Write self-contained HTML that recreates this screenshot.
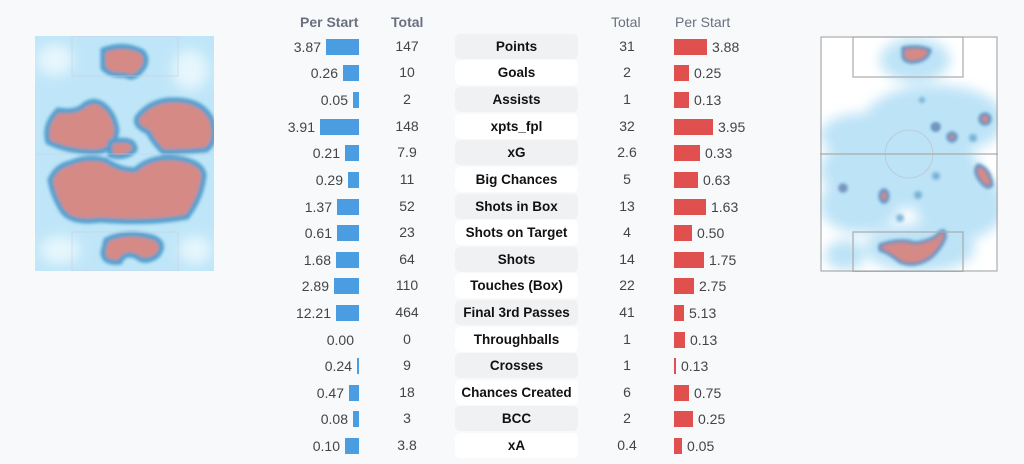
<!DOCTYPE html>
<html><head><meta charset="utf-8"><style>
body{margin:0;width:1024px;height:464px;background:#f8f9fb;font-family:"Liberation Sans",sans-serif;position:relative;overflow:hidden;color:#444}
.h{position:absolute;top:14px;font-size:14px;color:#6a7080}
.row{position:absolute;left:0;width:1024px;height:25px}
.l{position:absolute;right:665px;top:0;height:25px;display:flex;align-items:center;gap:5px;font-size:14px;color:#444}
.l i{display:block;height:16px;background:#4a9de0}
.r{position:absolute;left:674px;top:0;height:25px;display:flex;align-items:center;gap:5px;font-size:14px;color:#444}
.r i{display:block;height:16px;background:#e0504e}
.t1,.t2{position:absolute;top:0;height:25px;line-height:25px;width:60px;text-align:center;font-size:14px;color:#444}
.t1{left:377px}.t2{left:597px}
.p{position:absolute;left:455px;width:123px;top:0;height:25px;line-height:25px;text-align:center;font-weight:bold;font-size:13.5px;color:#111;border-radius:5px;background:#fff}
.g .p{background:#f0f1f3}
</style></head><body>
<div class="h" style="left:300px;font-weight:bold">Per Start</div>
<div class="h" style="left:391px;font-weight:bold">Total</div>
<div class="h" style="left:611px">Total</div>
<div class="h" style="left:675px">Per Start</div>

<div class="row g" style="top:34px"><div class="l">3.87<i style="width:33px"></i></div><div class="t1">147</div><div class="p">Points</div><div class="t2">31</div><div class="r"><i style="width:33px"></i>3.88</div></div>
<div class="row" style="top:60px"><div class="l">0.26<i style="width:16px"></i></div><div class="t1">10</div><div class="p">Goals</div><div class="t2">2</div><div class="r"><i style="width:15px"></i>0.25</div></div>
<div class="row g" style="top:87px"><div class="l">0.05<i style="width:6px"></i></div><div class="t1">2</div><div class="p">Assists</div><div class="t2">1</div><div class="r"><i style="width:15px"></i>0.13</div></div>
<div class="row" style="top:114px"><div class="l">3.91<i style="width:39px"></i></div><div class="t1">148</div><div class="p">xpts_fpl</div><div class="t2">32</div><div class="r"><i style="width:39px"></i>3.95</div></div>
<div class="row g" style="top:140px"><div class="l">0.21<i style="width:14px"></i></div><div class="t1">7.9</div><div class="p">xG</div><div class="t2">2.6</div><div class="r"><i style="width:26px"></i>0.33</div></div>
<div class="row" style="top:167px"><div class="l">0.29<i style="width:11px"></i></div><div class="t1">11</div><div class="p">Big Chances</div><div class="t2">5</div><div class="r"><i style="width:24px"></i>0.63</div></div>
<div class="row g" style="top:194px"><div class="l">1.37<i style="width:22px"></i></div><div class="t1">52</div><div class="p">Shots in Box</div><div class="t2">13</div><div class="r"><i style="width:32px"></i>1.63</div></div>
<div class="row" style="top:220px"><div class="l">0.61<i style="width:22px"></i></div><div class="t1">23</div><div class="p">Shots on Target</div><div class="t2">4</div><div class="r"><i style="width:18px"></i>0.50</div></div>
<div class="row g" style="top:247px"><div class="l">1.68<i style="width:23px"></i></div><div class="t1">64</div><div class="p">Shots</div><div class="t2">14</div><div class="r"><i style="width:30px"></i>1.75</div></div>
<div class="row" style="top:273px"><div class="l">2.89<i style="width:25px"></i></div><div class="t1">110</div><div class="p">Touches (Box)</div><div class="t2">22</div><div class="r"><i style="width:20px"></i>2.75</div></div>
<div class="row g" style="top:300px"><div class="l">12.21<i style="width:23px"></i></div><div class="t1">464</div><div class="p">Final 3rd Passes</div><div class="t2">41</div><div class="r"><i style="width:10px"></i>5.13</div></div>
<div class="row" style="top:327px"><div class="l">0.00<i style="width:0px"></i></div><div class="t1">0</div><div class="p">Throughballs</div><div class="t2">1</div><div class="r"><i style="width:11px"></i>0.13</div></div>
<div class="row g" style="top:353px"><div class="l">0.24<i style="width:2px"></i></div><div class="t1">9</div><div class="p">Crosses</div><div class="t2">1</div><div class="r"><i style="width:2px"></i>0.13</div></div>
<div class="row" style="top:380px"><div class="l">0.47<i style="width:10px"></i></div><div class="t1">18</div><div class="p">Chances Created</div><div class="t2">6</div><div class="r"><i style="width:15px"></i>0.75</div></div>
<div class="row g" style="top:406px"><div class="l">0.08<i style="width:6px"></i></div><div class="t1">3</div><div class="p">BCC</div><div class="t2">2</div><div class="r"><i style="width:19px"></i>0.25</div></div>
<div class="row" style="top:433px"><div class="l">0.10<i style="width:14px"></i></div><div class="t1">3.8</div><div class="p">xA</div><div class="t2">0.4</div><div class="r"><i style="width:8px"></i>0.05</div></div>

<svg style="position:absolute;left:0;top:0" width="1024" height="464">
<defs>
<filter id="b" x="-20%" y="-20%" width="140%" height="140%"><feGaussianBlur stdDeviation="6"/></filter>
<filter id="s" x="-20%" y="-20%" width="140%" height="140%"><feGaussianBlur stdDeviation="1.5"/></filter>
<clipPath id="c1"><rect x="35" y="36" width="179" height="235"/></clipPath>
<clipPath id="c2"><rect x="820" y="36" width="178" height="236"/></clipPath>
</defs>
<g clip-path="url(#c1)">
<rect x="35" y="36" width="179" height="235" fill="#bfe6f8"/>
<g filter="url(#b)" fill="#e6f6fd"><ellipse cx="55" cy="60" rx="18" ry="16"/><ellipse cx="190" cy="70" rx="18" ry="20"/><ellipse cx="60" cy="250" rx="20" ry="14"/><ellipse cx="195" cy="250" rx="16" ry="14"/></g>
<g filter="url(#s)" fill="#d58a86" stroke="#4f9fce" stroke-width="5">
<path d="M103 50 Q125 42 143 52 Q150 62 140 72 Q133 80 125 75 Q110 76 103 68 Z"/>
<path d="M83 106 Q92 98 102 104 Q114 112 117 130 Q114 152 95 152 Q68 152 48 142 Q43 125 58 110 Q75 113 83 106 Z"/>
<path d="M168 100 Q202 98 212 120 Q218 142 206 150 Q185 152 163 152 Q153 142 148 132 Q132 125 138 116 Q150 102 168 100 Z"/>
<path d="M110 142 Q135 136 135 150 Q125 160 110 155 Z"/>
<path d="M70 163 Q85 156 105 160 Q120 170 135 170 Q150 156 175 158 Q202 161 204 175 Q202 197 187 217 Q150 224 100 220 Q73 224 63 212 Q53 197 50 180 Q56 166 70 163 Z"/>
<path d="M106 240 Q125 230 152 237 Q168 243 157 256 Q145 264 137 257 Q125 251 120 262 Q103 264 103 252 Z"/>
</g>
<g stroke="#ccd" stroke-width=".6" fill="none"><line x1="35" y1="154" x2="214" y2="154"/><rect x="72" y="36" width="106" height="40"/><rect x="72" y="232" width="106" height="39"/></g>
</g>
<g clip-path="url(#c2)">
<rect x="820" y="36" width="178" height="236" fill="#ffffff"/>
<g filter="url(#b)" fill="#b6e0f6" opacity=".9">
<ellipse cx="915" cy="60" rx="35" ry="22"/><ellipse cx="935" cy="120" rx="70" ry="35"/><ellipse cx="900" cy="170" rx="80" ry="38"/><ellipse cx="960" cy="205" rx="45" ry="35"/><ellipse cx="860" cy="205" rx="40" ry="28"/><ellipse cx="920" cy="248" rx="55" ry="24"/><ellipse cx="865" cy="135" rx="45" ry="22"/><ellipse cx="845" cy="255" rx="20" ry="15"/>
</g>
<g fill="#5a9ec8" opacity=".7" filter="url(#s)"><circle cx="935" cy="127" r="4"/><circle cx="973" cy="138" r="4"/><circle cx="936" cy="176" r="4"/><circle cx="918" cy="195" r="4"/><circle cx="900" cy="218" r="4"/><circle cx="922" cy="100" r="3"/></g>
<g filter="url(#s)" fill="#d58a86" stroke="#4e8fbf" stroke-width="3">
<path d="M903 48 Q920 45 930 50 Q928 60 915 62 Q903 63 903 55 Z"/>
<circle cx="985" cy="119" r="5"/><circle cx="952" cy="137" r="4"/><circle cx="936" cy="127" r="3"/>
<path d="M978 165 Q990 168 992 185 Q988 190 982 183 Q972 172 978 165 Z"/>
<circle cx="843" cy="188" r="3"/><ellipse cx="884" cy="196" rx="4" ry="6"/>
<path d="M880 245 Q900 238 915 243 Q935 240 940 232 Q946 228 945 238 Q940 250 930 258 Q915 268 900 262 Q888 252 880 250 Z"/>
</g>
<g stroke="#aaa" stroke-width="1.2" fill="none"><rect x="821" y="37" width="176" height="234"/><line x1="820" y1="154" x2="998" y2="154"/><rect x="853" y="37" width="110" height="40"/><rect x="853" y="232" width="110" height="40"/></g>
<circle cx="909" cy="154" r="24" stroke="#bbb" stroke-width=".6" fill="none"/>
</g>
</svg>
</body></html>
